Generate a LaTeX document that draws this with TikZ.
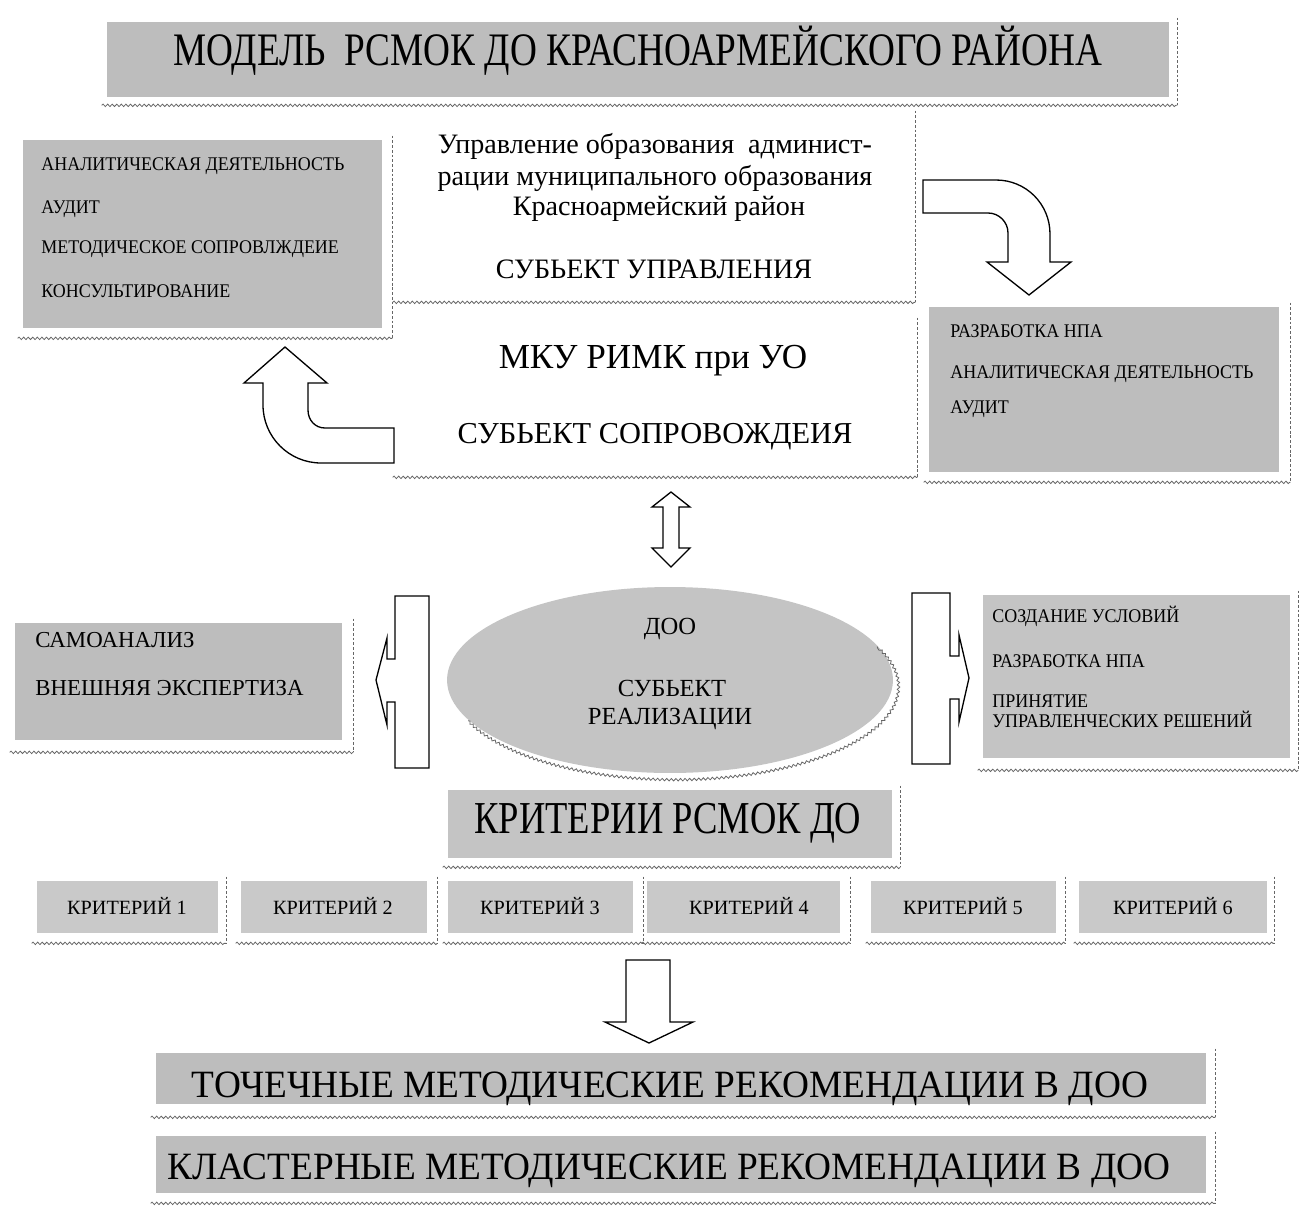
\documentclass[tikz,border=0pt]{standalone}
\usepackage{fontspec}
\setmainfont{Liberation Serif}
\newfontfamily\fA[FakeStretch=0.8]{Liberation Serif}
\newfontfamily\fB[FakeStretch=0.965]{Liberation Serif}
\newfontfamily\fD[FakeStretch=0.93]{Liberation Serif}
\usetikzlibrary{shapes.geometric,decorations.pathmorphing,calc,fit}
\definecolor{boxgray}{gray}{0.74}
\definecolor{boxgrayl}{gray}{0.77}
\definecolor{critgray}{gray}{0.79}
\definecolor{ellgray}{gray}{0.77}
\newcommand\shd[3]{%
  \draw[dashr] ($(#1.north east)+(#2,-4)$) -- ($(#1.south east)+(#2,#3)$);
  \draw[wavy] ($(#1.south west)+(-5,#3)$) -- ($(#1.south east)+(#2,#3)$);
}
\begin{document}
\begin{tikzpicture}[x=0.02cm,y=-0.02cm,
  gbox/.style={fill=boxgray, draw=none, inner sep=0pt},
  wbox/.style={fill=white, draw=none, inner sep=0pt},
  lt/.style={inner sep=0pt, anchor=base west},
  ct/.style={inner sep=0pt, anchor=base},
  wavy/.style={draw=black!60, line width=0.45pt, decorate, decoration={snake, segment length=2.6pt, amplitude=0.7pt}},
  dashr/.style={draw=black!60, line width=0.5pt, dash pattern=on 1.6pt off 1.1pt},
  blk/.style={draw=black, line width=0.75pt, fill=white, line join=miter},
  sm/.style={font=\fD\fontsize{11}{13}\selectfont},
  mid/.style={font=\fontsize{16}{18}\selectfont},
  crit/.style={font=\fontsize{11.5}{13}\selectfont},
  big/.style={font=\fB\fontsize{22}{26}\selectfont},
]
\fill[white] (0,0) rectangle (1302,1207);
\useasboundingbox (0,0) rectangle (1302,1207);

% title
\node[gbox, fit={(107,22) (1169,97)}] (title) {};
\shd{title}{8}{8}
\node[ct, font=\fA\fontsize{26.5}{30}\selectfont] (titleT) at (638,65) {МОДЕЛЬ\ \ РСМОК ДО КРАСНОАРМЕЙСКОГО РАЙОНА};

% top-left box
\node[gbox, fit={(23,140) (382,328)}] (tl) {};
\shd{tl}{10}{10}
\node[lt, sm] (tl1) at (41,170) {АНАЛИТИЧЕСКАЯ ДЕЯТЕЛЬНОСТЬ};
\node[lt, sm] (tl2) at (41,213) {АУДИТ};
\node[lt, sm] (tl3) at (41,253) {МЕТОДИЧЕСКОЕ СОПРОВЛЖДЕИЕ};
\node[lt, sm] (tl4) at (41,297) {КОНСУЛЬТИРОВАНИЕ};

% middle upper box
\node[wbox, fit={(398,115) (907,294)}] (ub) {};
\shd{ub}{8}{8}
\node[ct, mid] (u1) at (655,153) {Управление образования\ \ админист-};
\node[ct, mid] (u2) at (655,185) {рации муниципального образования};
\node[ct, mid] (u3) at (659,215) {Красноармейский район};
\node[ct, mid] (u4) at (654,278) {СУБЬЕКТ УПРАВЛЕНИЯ};

% middle lower box
\node[wbox, fit={(398,322) (909,469)}] (mk) {};
\shd{mk}{8}{8}
\node[ct, font=\fontsize{20}{22}\selectfont] (m1) at (653,368) {МКУ РИМК при УО};
\node[ct, font=\fontsize{17.3}{20}\selectfont] (m2) at (655,443) {СУБЬЕКТ СОПРОВОЖДЕИЯ};

% right upper box
\node[gbox, fit={(929,307) (1279,472)}] (rb) {};
\shd{rb}{11}{10}
\node[lt, sm] (r1) at (950,337) {РАЗРАБОТКА НПА};
\node[lt, sm] (r2) at (950,378) {АНАЛИТИЧЕСКАЯ ДЕЯТЕЛЬНОСТЬ};
\node[lt, sm] (r3) at (950,413) {АУДИТ};

% bent arrows
\draw[blk] (923,180) -- (996,180) .. controls (1026,180) and (1050,204) .. (1050,234)
  -- (1050,262) -- (1071,262) -- (1029,295) -- (987,262) -- (1008,262) -- (1008,233)
  .. controls (1008,222) and (999,213) .. (988,213) -- (923,213) -- cycle;
\draw[blk] (285,347) -- (327,383) -- (308,383) -- (308,410)
  .. controls (308,420) and (315,428) .. (325,428) -- (394,428) -- (394,463) -- (321,463)
  .. controls (289,463) and (263,437) .. (263,405) -- (263,383) -- (244,383) -- cycle;

% double arrow
\draw[blk] (671,492) -- (690,507) -- (679,507) -- (679,548) -- (690,548) -- (671,567)
  -- (652,548) -- (663,548) -- (663,507) -- (652,507) -- cycle;

% ellipse
\node[ellipse, fill=ellgray, draw=none, minimum width=8.92cm, minimum height=3.72cm, inner sep=0pt] (doo) at (670,680) {};
\coordinate (dshs) at (468.2,720.8);
\draw[wavy] (dshs) arc[start angle=202, end angle=385, x radius=4.46cm, y radius=1.86cm];
\node[ct, font=\fontsize{14}{16}\selectfont] (d1) at (670,634) {ДОО};
\node[ct, font=\fontsize{14}{16}\selectfont] (d2) at (672,696) {СУБЬЕКТ};
\node[ct, font=\fontsize{14}{16}\selectfont] (d3) at (670,724) {РЕАЛИЗАЦИИ};

% side callout arrows
\draw[blk] (395,596) -- (429,596) -- (429,768) -- (395,768) -- (395,702) -- (387,702)
  -- (387,725) -- (376,680) -- (387,638) -- (387,659) -- (395,659) -- cycle;
\draw[blk] (912,593) -- (950,593) -- (950,656) -- (959,656) -- (959,635) -- (969,678)
  -- (959,722) -- (959,699) -- (950,699) -- (950,764) -- (912,764) -- cycle;

% left middle box
\node[gbox, fit={(15,623) (342,740)}] (lb) {};
\shd{lb}{11}{12}
\node[lt, font=\fontsize{13}{15}\selectfont] (l1) at (35,647) {САМОАНАЛИЗ};
\node[lt, font=\fontsize{13}{15}\selectfont] (l2) at (35,695) {ВНЕШНЯЯ ЭКСПЕРТИЗА};

% right middle box
\node[gbox, fill=boxgrayl, fit={(983,595) (1290,758)}] (rm) {};
\shd{rm}{8}{12}
\node[lt, sm] (rm1) at (992,622) {СОЗДАНИЕ УСЛОВИЙ};
\node[lt, sm] (rm2) at (992,667) {РАЗРАБОТКА НПА};
\node[lt, sm] (rm3) at (992,707) {ПРИНЯТИЕ};
\node[lt, sm] (rm4) at (992,727) {УПРАВЛЕНЧЕСКИХ РЕШЕНИЙ};

% criteria title
\node[gbox, fill=boxgrayl, fit={(448,790) (892,858)}] (kb) {};
\shd{kb}{8}{9}
\node[ct, font=\fA\fontsize{26}{30}\selectfont] (kbT) at (668,833) {КРИТЕРИИ РСМОК ДО};

% criteria row
\node[gbox, fill=critgray, fit={(37,881) (218,933)}] (c1) {};
\node[gbox, fill=critgray, fit={(241,881) (427,933)}] (c2) {};
\node[gbox, fill=critgray, fit={(448,881) (633,933)}] (c3) {};
\node[gbox, fill=critgray, fit={(647,881) (840,933)}] (c4) {};
\node[gbox, fill=critgray, fit={(871,881) (1056,933)}] (c5) {};
\node[gbox, fill=critgray, fit={(1079,881) (1267,933)}] (c6) {};
\shd{c1}{8}{10}
\shd{c2}{10}{10}
\shd{c3}{10}{10}
\shd{c4}{10}{10}
\shd{c5}{9}{10}
\shd{c6}{7}{10}
\node[ct, crit] (c1T) at (127,914) {КРИТЕРИЙ 1};
\node[ct, crit] (c2T) at (333,914) {КРИТЕРИЙ 2};
\node[ct, crit] (c3T) at (540,914) {КРИТЕРИЙ 3};
\node[ct, crit] (c4T) at (749,914) {КРИТЕРИЙ 4};
\node[ct, crit] (c5T) at (963,914) {КРИТЕРИЙ 5};
\node[ct, crit] (c6T) at (1173,914) {КРИТЕРИЙ 6};

% down arrow
\draw[blk] (626,960) -- (670,960) -- (670,1022) -- (693,1022) -- (649,1043) -- (605,1022) -- (626,1022) -- cycle;

% bottom boxes
\node[gbox, fit={(156,1053) (1206,1104)}] (b1) {};
\shd{b1}{9}{13}
\node[ct, big] (b1T) at (670,1097) {ТОЧЕЧНЫЕ МЕТОДИЧЕСКИЕ РЕКОМЕНДАЦИИ В ДОО};
\node[gbox, fit={(156,1136) (1206,1193)}] (b2) {};
\shd{b2}{9}{10}
\node[ct, big] (b2T) at (669,1179) {КЛАСТЕРНЫЕ МЕТОДИЧЕСКИЕ РЕКОМЕНДАЦИИ В ДОО};
\end{tikzpicture}
\end{document}
